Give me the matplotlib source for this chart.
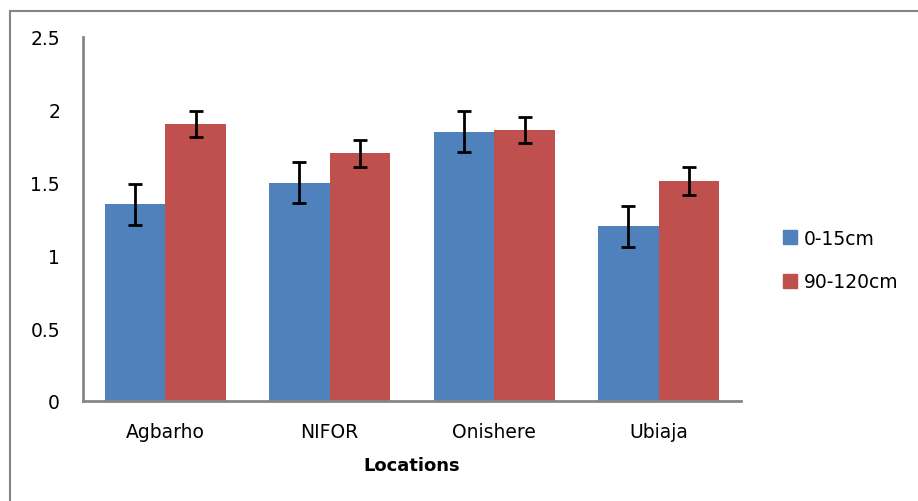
import numpy as np
import matplotlib.pyplot as plt
from matplotlib.lines import Line2D
from matplotlib.patches import Patch

lugares = ['Agbarho', 'NIFOR', 'Onishere', 'Ubiaja']
serie_1 = [1.35, 1.50, 1.85, 1.20]
error_1 = [0.14, 0.14, 0.14, 0.14]
serie_2 = [1.90, 1.70, 1.86, 1.51]
error_2 = [0.09, 0.09, 0.09, 0.095]
nombres = ['0-15cm', '90-120cm']
colores = ('#4F81BD', '#C0504D')

W, H = 918, 502
fig = plt.figure(figsize=(W / 100, H / 100), dpi=100)
ax = fig.add_axes([83 / W, 1 - 402 / H, (741 - 83) / W, (402 - 38) / H])

x = np.arange(len(lugares))
ancho = 0.368
err_kw = dict(ecolor='black', elinewidth=2, capsize=4.7, capthick=2)
ax.bar(x - ancho / 2, serie_1, ancho, color=colores[0], yerr=error_1,
       error_kw=err_kw, label=nombres[0])
ax.bar(x + ancho / 2, serie_2, ancho, color=colores[1], yerr=error_2,
       error_kw=err_kw, label=nombres[1])

ax.set_xlim(-0.5, len(lugares) - 0.5)
ax.set_ylim(0, 2.5)
ax.set_yticks([0, 0.5, 1, 1.5, 2, 2.5])
ax.set_yticklabels(['0', '0.5', '1', '1.5', '2', '2.5'])
ax.set_xticks(x)
ax.set_xticklabels(lugares)
ax.tick_params(axis='y', length=0, pad=16.5, labelsize=13.5)
ax.tick_params(axis='x', length=0, pad=15, labelsize=13.5)
ax.set_xlabel('Locations', fontsize=13, fontweight='bold', labelpad=11)

for s in ('top', 'right'):
    ax.spines[s].set_visible(False)
for s in ('left', 'bottom'):
    ax.spines[s].set_color('#868686')
    ax.spines[s].set_linewidth(2)

# leyenda a la derecha
handles = [Patch(color=c) for c in colores]
fig.legend(handles, nombres, loc='center left', bbox_to_anchor=(766 / W, 1 - 261 / H),
           frameon=False, fontsize=13.5, handlelength=0.75, handleheight=0.75,
           handletextpad=0.35, labelspacing=1.3)

# marco exterior
fig.add_artist(Line2D([10 / W, 10 / W], [0, 1 - 12 / H], color='#868686', lw=1.5,
                      transform=fig.transFigure))
fig.add_artist(Line2D([10 / W, 1], [1 - 12 / H, 1 - 12 / H], color='#868686', lw=1.5,
                      transform=fig.transFigure))

fig.savefig('out.png', dpi=100)
